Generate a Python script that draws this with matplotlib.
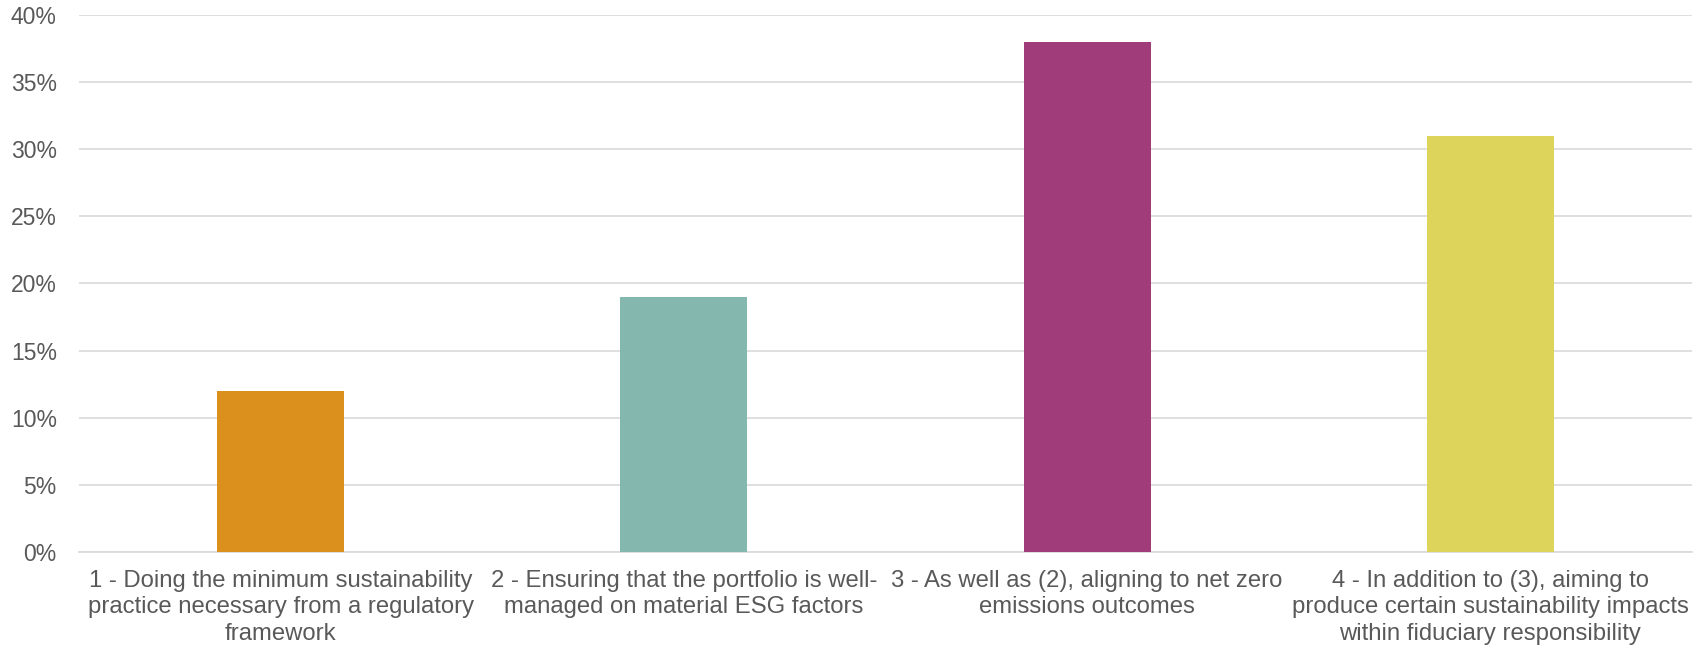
import matplotlib.pyplot as plt
import numpy as np
from matplotlib.ticker import MultipleLocator, FuncFormatter

plt.rcParams['font.family'] = ['Liberation Sans', 'DejaVu Sans']

categories = [
    '1 - Doing the minimum sustainability\npractice necessary from a regulatory\nframework',
    '2 - Ensuring that the portfolio is well-\nmanaged on material ESG factors',
    '3 - As well as (2), aligning to net zero\nemissions outcomes',
    '4 - In addition to (3), aiming to\nproduce certain sustainability impacts\nwithin fiduciary responsibility',
]
values = [12, 19, 38, 31]
colors = ['#DB8F1C', '#84B8AE', '#A03C7A', '#DDD55B']

# Figure
fig = plt.figure(figsize=(17.07, 6.5), dpi=100)
ax = fig.add_axes([0.0463, 0.1508, 0.9449, 0.8262])

x = np.arange(len(categories))
ax.bar(x, values, width=0.315, color=colors, zorder=3)

ax.set_xlim(-0.5, len(categories) - 0.5)
ax.set_ylim(0, 40)
ax.yaxis.set_major_locator(MultipleLocator(5))
ax.yaxis.set_major_formatter(FuncFormatter(lambda v, p: f'{v:.0f}%'))
ax.grid(axis='y', color='#d9d9d9', linewidth=1.2, zorder=0)

ax.set_xticks(x)
ax.set_xticklabels(categories, linespacing=1.25)

# tick setting
ax.tick_params(axis='both', length=0, colors='#595959')
ax.tick_params(axis='y', labelsize=16.5, pad=16)
ax.tick_params(axis='x', labelsize=17.2, pad=13)

for side in ['top', 'right', 'left']:
    ax.spines[side].set_visible(False)
ax.spines['bottom'].set_color('#d9d9d9')
ax.spines['bottom'].set_linewidth(1.2)

fig.savefig('out.png', dpi=100)
